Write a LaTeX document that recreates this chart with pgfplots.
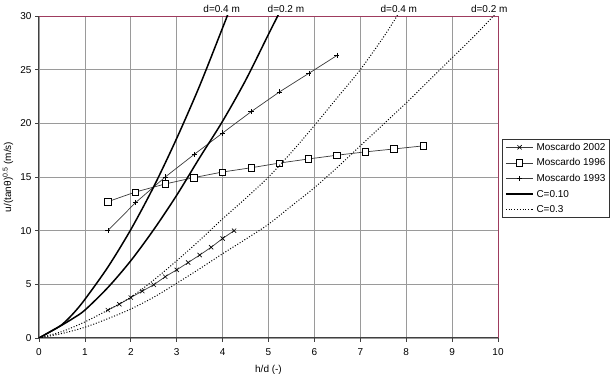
\documentclass[border=0pt]{standalone}
\usepackage{fontspec}
\setmainfont{Liberation Sans}
\usepackage{pgfplots}
\pgfplotsset{compat=1.18}
\definecolor{framec}{HTML}{9E3B5E}
\definecolor{gridc}{HTML}{9A9A9A}
\definecolor{ser}{HTML}{3A3A3A}
\begin{document}
\begin{tikzpicture}
\begin{axis}[
 at={(0,0)}, anchor=south west,
 scale only axis, width=459pt, height=322pt,
 xmin=0, xmax=10, ymin=0, ymax=30,
 xtick={0,1,...,10}, ytick={0,5,...,30},
 axis lines=left, axis line style={-, draw=black!75, line width=1pt},
 tick align=outside, major tick length=4pt, tick style={black!75, line width=0.8pt},
 grid=major, major grid style={gridc, line width=0.7pt},
 /pgf/number format/assume math mode=true,
 xticklabel style={yshift=-3pt},
 xlabel={h/d (-)},
 ylabel={u/(tanθ)\textsuperscript{0.5} (m/s)},
 xlabel style={at={([yshift=-27pt]axis description cs:0.5,0)}, anchor=north, inner sep=0pt},
 ylabel style={at={([xshift=-31pt]axis description cs:0,0.5)}, anchor=center},
 clip mode=individual,
 legend cell align=left,
 legend style={at={(axis description cs:1,1)}, anchor=north west, xshift=4pt, yshift=-123pt,
   draw=black!80, line width=0.6pt, inner xsep=2.7pt, inner ysep=2pt, row sep=3.6pt, column sep=1.4pt,
   nodes={inner sep=1pt, text height=8pt, text depth=2pt}},
 legend image code/.code={\draw[mark repeat=2,mark phase=2,#1] plot coordinates {(0pt,0pt)(13.8pt,0pt)(27.6pt,0pt)};},
]
\draw[framec, line width=0.8pt] (rel axis cs:0,1) -- (rel axis cs:1,1) -- (rel axis cs:1,0);

\addplot[ser, line width=0.7pt, mark=x, mark size=3pt, mark options={black, line width=0.6pt}] coordinates {
(1.5,2.6)(1.75,3.15)(2.0,3.77)(2.25,4.37)(2.5,4.96)(2.75,5.71)(3.0,6.35)(3.25,7.03)(3.5,7.73)(3.75,8.45)(4.0,9.27)(4.25,10.0)};
\addlegendentry{Moscardo 2002}
\addplot[ser, line width=0.7pt, mark=square*, mark size=3.2pt, mark options={fill=white, draw=black, line width=0.6pt}] coordinates {
(1.5,12.7)(2.1,13.6)(2.75,14.35)(3.37,14.94)(3.99,15.46)(4.62,15.86)(5.24,16.3)(5.87,16.68)(6.49,17.03)(7.11,17.34)(7.73,17.61)(8.37,17.9)};
\addlegendentry{Moscardo 1996}
\addplot[ser, line width=0.7pt, mark=+, mark size=2.6pt, mark options={black, line width=0.6pt}] coordinates {
(1.5,10.0)(2.1,12.6)(2.75,15.0)(3.38,17.1)(4.0,19.1)(4.62,21.08)(5.24,22.93)(5.88,24.66)(6.49,26.32)};
\addlegendentry{Moscardo 1993}

\addplot[black, line width=1.5pt, smooth] coordinates {
(0,0)(0.25,0.6)(0.5,1.25)(0.75,2.3)(1,3.6)(1.5,6.6)(2,10.1)(2.5,14.1)(3,18.6)(3.5,23.5)(4,28.9)(4.1,30.0)(4.15,30.6)};
\addlegendentry{C=0.10}
\addplot[black, line width=1.5pt, smooth, forget plot] coordinates {
(0,0)(0.25,0.6)(0.5,1.2)(0.75,1.85)(1,2.6)(1.5,4.7)(2,7.2)(2.5,10.1)(3,13.3)(3.5,16.8)(4,20.2)(4.5,24.0)(5,28.3)(5.2,30.0)(5.3,30.9)};

\addplot[black, line width=1pt, dash pattern=on 1pt off 1.8pt, smooth] coordinates {
(0,0)(0.5,0.6)(1,1.5)(1.5,2.6)(2,3.8)(2.5,5.4)(3,7.2)(3.5,9.1)(4,11.1)(4.5,13.0)(5,15.0)(5.5,17.3)(6,19.8)(6.5,22.4)(7,25.0)(7.5,28.0)(7.8,30.0)(7.9,30.7)};
\addlegendentry{C=0.3}
\addplot[black, line width=1pt, dash pattern=on 1pt off 1.8pt, smooth, forget plot] coordinates {
(0,0)(0.5,0.42)(1,1.0)(1.5,1.8)(2,2.7)(2.5,3.8)(3,5.1)(3.5,6.45)(4,7.85)(4.5,9.2)(5,10.6)(5.5,12.3)(6,14.0)(6.5,15.9)(7,17.9)(7.5,19.9)(8,21.9)(8.5,24.0)(9,26.1)(9.5,28.2)(9.9,30.0)(10,30.5)};

\node[anchor=base, inner sep=0pt, yshift=3pt] at (axis cs:3.98,30) {d=0.4 m};
\node[anchor=base, inner sep=0pt, yshift=3pt] at (axis cs:5.38,30) {d=0.2 m};
\node[anchor=base, inner sep=0pt, yshift=3pt] at (axis cs:7.84,30) {d=0.4 m};
\node[anchor=base, inner sep=0pt, yshift=3pt] at (axis cs:9.81,30) {d=0.2 m};
\end{axis}
\pgfresetboundingbox
\path[use as bounding box] (-39pt,-36pt) rectangle (573pt,338pt);
\end{tikzpicture}
\end{document}
